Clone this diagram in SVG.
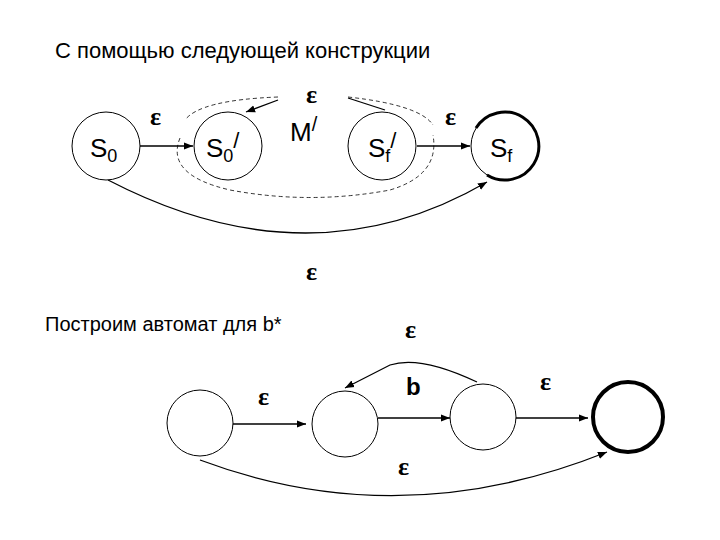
<svg xmlns="http://www.w3.org/2000/svg" width="720" height="540" viewBox="0 0 720 540">
<defs>
<marker id="ah" viewBox="0 0 10 10" refX="10" refY="5" markerWidth="7" markerHeight="7" orient="auto"><path d="M0,1 L10,5 L0,9 z" fill="#000"/></marker>
<style>
.n{fill:#fff;stroke:#000;stroke-width:1}
.t{font-family:"Liberation Sans",Arial,sans-serif;fill:#000}
.e{font-family:"Liberation Serif","Times New Roman",serif;font-size:26px;font-weight:bold;fill:#000}
.c{fill:none;stroke:#000;stroke-width:1.3}
.d{fill:none;stroke:#000;stroke-width:0.8;stroke-dasharray:4,3}
</style>
</defs>
<rect width="720" height="540" fill="#fff"/>
<text class="t" x="55" y="58" font-size="22">С помощью следующей конструкции</text>
<text class="t" x="45" y="331" font-size="20">Построим автомат для b*</text>
<g id="connectors">
<path class="d" d="M278,97 Q200,100 185,120"/>
<path class="d" d="M348,97 Q420,105 433,125"/>
<path class="d" d="M180,138 Q165,175 230,190 Q310,205 390,190 Q440,175 433,135"/>
<line class="c" x1="278" y1="100" x2="246" y2="112" marker-end="url(#ah)"/>
<line class="c" x1="348" y1="98" x2="385" y2="110"/>
<line class="c" x1="140" y1="146" x2="193" y2="146" marker-end="url(#ah)"/>
<line class="c" x1="417" y1="146" x2="470" y2="146" marker-end="url(#ah)"/>
<path class="c" d="M108,180 Q310,285 487,182" marker-end="url(#ah)"/>
<line class="c" x1="233" y1="424" x2="306" y2="424" marker-end="url(#ah)"/>
<line class="c" x1="378" y1="418" x2="450" y2="418" marker-end="url(#ah)"/>
<line class="c" x1="516" y1="418" x2="588" y2="418" marker-end="url(#ah)"/>
<path class="c" d="M477,382 Q420,355 390,365 L345,388" marker-end="url(#ah)"/>
<path class="c" d="M200,460 Q400,535 607,452" marker-end="url(#ah)"/>
</g>
<g id="S0"><circle class="n" cx="106" cy="146" r="34"/><text class="t" x="90" y="157" font-size="26">S<tspan font-size="18" dy="5">0</tspan></text></g>
<g id="S0p"><circle class="n" cx="228" cy="146" r="34"/><text class="t" x="206" y="157" font-size="26">S<tspan font-size="18" dy="5">0</tspan><tspan dy="-14" font-size="22">/</tspan></text></g>
<g id="Mp"><text class="t" x="290" y="141" font-size="26">M<tspan font-size="20" dy="-10">/</tspan></text></g>
<g id="Sfp"><circle class="n" cx="382" cy="146" r="34"/><text class="t" x="368" y="157" font-size="26">S<tspan font-size="18" dy="5">f</tspan><tspan dy="-14" font-size="22">/</tspan></text></g>
<g id="Sf"><circle class="n" cx="505" cy="146" r="34"/><path d="M476,128 A34,34 0 1 1 487,175" fill="none" stroke="#000" stroke-width="3"/><text class="t" x="490" y="157" font-size="26">S<tspan font-size="18" dy="5">f</tspan></text></g>
<g id="c1"><circle class="n" cx="200" cy="423" r="33"/></g>
<g id="c2"><circle class="n" cx="345" cy="424" r="33"/></g>
<g id="c3"><circle class="n" cx="483" cy="417" r="33"/></g>
<g id="c4"><circle cx="628" cy="417" r="35" fill="#fff" stroke="#000" stroke-width="4"/></g>
<g id="labels">
<text class="e" x="150" y="125">ε</text>
<text class="e" x="306" y="103">ε</text>
<text class="e" x="445" y="125">ε</text>
<text class="e" x="306" y="280">ε</text>
<text class="e" x="405" y="338">ε</text>
<text class="e" x="258" y="405">ε</text>
<text class="e" x="540" y="390">ε</text>
<text class="e" x="398" y="475">ε</text>
<text class="t" x="406" y="395" font-size="24" font-weight="bold">b</text>
</g>
</svg>
